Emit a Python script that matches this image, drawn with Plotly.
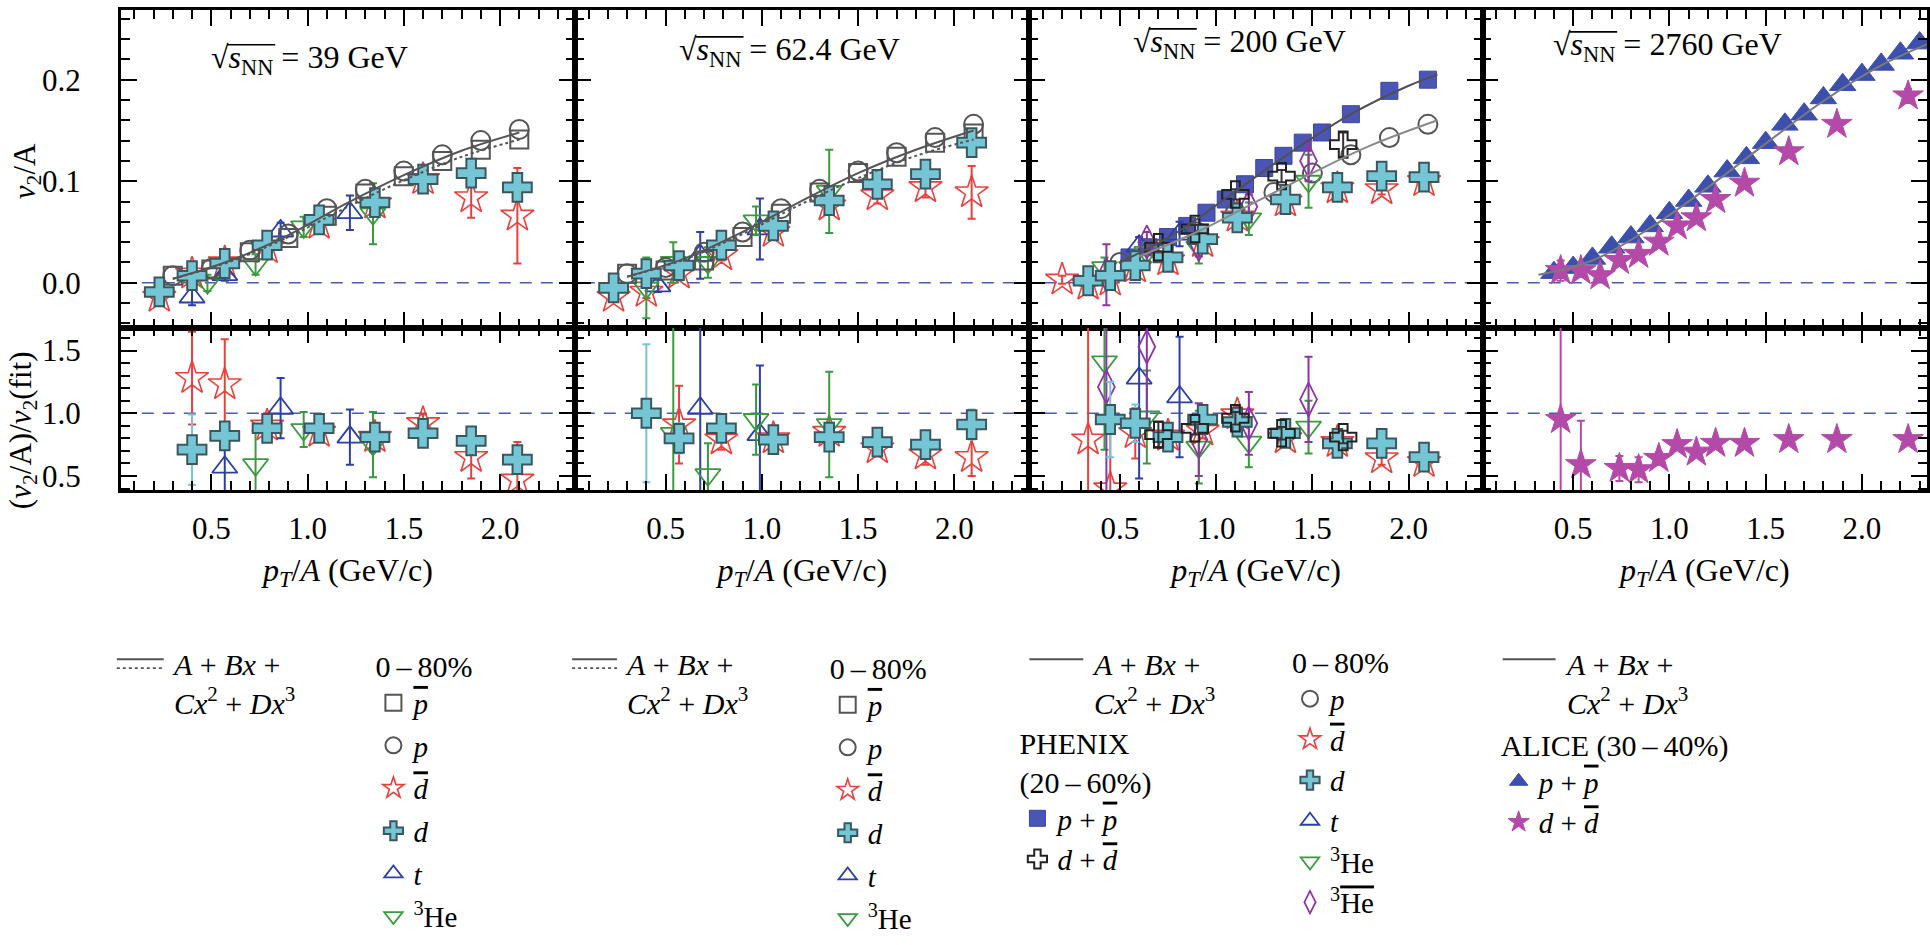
import plotly.graph_objects as go

FONT = "Liberation Serif, Times New Roman, serif"

# ======================= DATA =======================
p_bins = [0.3, 0.5, 0.7, 0.9, 1.1, 1.3, 1.5, 1.7, 1.9, 2.1]
d_bins_low = [0.23, 0.40, 0.57, 0.79, 1.06, 1.35, 1.60, 1.85, 2.09]
fit_x7 = [0.3, 0.6, 0.9, 1.2, 1.5, 1.8, 2.1]

# ---- sqrt(sNN) = 39 GeV ----
s39_pbar_v2 = [0.007, 0.013, 0.030, 0.044, 0.066, 0.088, 0.105, 0.120, 0.131, 0.141]
s39_p_v2 = [0.007, 0.014, 0.032, 0.048, 0.073, 0.092, 0.110, 0.126, 0.140, 0.151]
s39_d_v2 = [-0.009, 0.007, 0.019, 0.037, 0.062, 0.079, 0.102, 0.108, 0.094]
s39_d_err = [0.004, 0.004, 0.004, 0.003, 0.003, 0.004, 0.005, 0.007, 0.012]
s39_d_ratio = [None, 0.71, 0.82, 0.88, 0.88, 0.81, 0.84, 0.78, 0.63]
s39_d_ratio_err = [None, 0.28, 0.10, 0.05, 0.04, 0.05, 0.05, 0.06, 0.08]
s39_dbar_v2 = [-0.014, 0.009, 0.020, 0.034, 0.058, 0.078, 0.102, 0.084, 0.066]
s39_dbar_err = [0.005, 0.006, 0.006, 0.005, 0.006, 0.008, 0.010, 0.020, 0.047]
s39_dbar_ratio = [None, 1.28, 1.23, 0.90, 0.85, 0.81, 0.92, 0.65, 0.47]
s39_dbar_ratio_err = [None, 0.37, 0.36, 0.10, 0.05, 0.08, 0.07, 0.17, 0.30]
s39_t_x = [0.40, 0.57, 0.86, 1.22]
s39_t_v2 = [-0.014, 0.008, 0.051, 0.069]
s39_t_err = [0.008, 0.006, 0.008, 0.017]
s39_t_ratio = [None, 0.57, 1.04, 0.81]
s39_t_ratio_err = [None, 0.25, 0.24, 0.22]
s39_he_x = [0.48, 0.73, 0.98, 1.34]
s39_he_v2 = [0.000, 0.018, 0.055, 0.068]
s39_he_err = [0.008, 0.010, 0.010, 0.030]
s39_he_ratio = [None, 0.59, 0.87, 0.75]
s39_he_ratio_err = [None, 0.27, 0.14, 0.26]
s39_fit_p = [0.004, 0.022, 0.047, 0.078, 0.106, 0.130, 0.148]
s39_fit_pbar = [0.004, 0.021, 0.045, 0.074, 0.101, 0.124, 0.141]

# ---- sqrt(sNN) = 62.4 GeV ----
s62_pbar_v2 = [0.009, 0.012, 0.022, 0.045, 0.068, 0.089, 0.108, 0.124, 0.138, 0.147]
s62_p_v2 = [0.009, 0.015, 0.030, 0.050, 0.073, 0.092, 0.110, 0.128, 0.143, 0.156]
s62_d_v2 = [-0.005, 0.009, 0.017, 0.037, 0.056, 0.081, 0.097, 0.107, 0.138]
s62_d_err = [0.004, 0.005, 0.005, 0.004, 0.004, 0.005, 0.006, 0.007, 0.012]
s62_d_ratio = [None, 1.00, 0.80, 0.88, 0.79, 0.81, 0.77, 0.75, 0.91]
s62_d_ratio_err = [None, 0.55, 0.12, 0.05, 0.04, 0.05, 0.04, 0.05, 0.12]
s62_dbar_v2 = [-0.014, -0.009, 0.009, 0.027, 0.050, 0.076, 0.086, 0.094, 0.089]
s62_dbar_err = [0.004, 0.006, 0.006, 0.005, 0.005, 0.006, 0.008, 0.010, 0.026]
s62_dbar_ratio = [None, None, 0.91, 0.79, 0.80, 0.85, 0.72, 0.67, 0.65]
s62_dbar_ratio_err = [None, None, 0.31, 0.08, 0.05, 0.06, 0.06, 0.08, 0.15]
s62_t_x = [0.46, 0.68, 0.99]
s62_t_v2 = [-0.003, 0.027, 0.053]
s62_t_err = [0.006, 0.023, 0.030]
s62_t_ratio = [None, 1.04, 0.83]
s62_t_ratio_err = [None, 0.70, 0.55]
s62_he_x = [0.40, 0.54, 0.72, 0.97, 1.35]
s62_he_v2 = [-0.005, 0.020, 0.020, 0.061, 0.090]
s62_he_err = [0.030, 0.020, 0.015, 0.014, 0.041]
s62_he_ratio = [None, 0.84, 0.51, 0.95, 0.91]
s62_he_ratio_err = [None, 0.90, 0.25, 0.28, 0.42]
s62_fit_p = [0.006, 0.024, 0.050, 0.080, 0.108, 0.131, 0.150]
s62_fit_pbar = [0.006, 0.023, 0.048, 0.077, 0.103, 0.125, 0.141]

# ---- sqrt(sNN) = 200 GeV ----
s200_phx_p_x = [0.55, 0.65, 0.75, 0.85, 0.95, 1.05, 1.15, 1.25, 1.35, 1.45, 1.55, 1.7, 1.9, 2.1]
s200_phx_p_v2 = [0.025, 0.035, 0.045, 0.056, 0.069, 0.082, 0.097, 0.113, 0.125, 0.138, 0.148, 0.166, 0.189, 0.200]
s200_phx_d_x = [0.70, 0.89, 1.10, 1.34, 1.66]
s200_phx_d_v2 = [0.035, 0.053, 0.087, 0.105, 0.136]
s200_phx_d_err = [0.004, 0.004, 0.005, 0.006, 0.012]
s200_phx_d_ratio = [0.83, 0.88, 0.96, 0.84, 0.81]
s200_phx_d_ratio_err = [0.10, 0.05, 0.05, 0.05, 0.05]
s200_p_x = [0.5, 0.7, 0.9, 1.1, 1.3, 1.5, 1.7, 1.9, 2.1]
s200_p_v2 = [0.020, 0.033, 0.050, 0.069, 0.089, 0.108, 0.126, 0.143, 0.156]
s200_d_x = [0.335, 0.45, 0.58, 0.75, 0.93, 1.11, 1.36, 1.63, 1.86, 2.08]
s200_d_v2 = [0.002, 0.007, 0.017, 0.025, 0.043, 0.064, 0.082, 0.094, 0.105, 0.104]
s200_d_err = [0.004, 0.004, 0.004, 0.003, 0.003, 0.003, 0.004, 0.004, 0.005, 0.006]
s200_d_ratio = [None, 0.95, 0.92, 0.81, 0.95, 0.93, 0.84, 0.76, 0.76, 0.65]
s200_d_ratio_err = [None, 0.30, 0.15, 0.05, 0.05, 0.05, 0.04, 0.04, 0.04, 0.04]
s200_dbar_x = [0.20, 0.335, 0.45, 0.58, 0.75, 0.93, 1.11, 1.36, 1.63, 1.86, 2.08]
s200_dbar_v2 = [0.003, -0.002, 0.002, 0.015, 0.022, 0.040, 0.065, 0.080, 0.093, 0.092, 0.100]
s200_dbar_err = [0.004, 0.004, 0.005, 0.004, 0.004, 0.003, 0.004, 0.004, 0.004, 0.005, 0.006]
s200_dbar_ratio = [None, 0.79, 0.40, 0.84, 0.82, 0.86, 0.99, 0.80, 0.77, 0.64, 0.61]
s200_dbar_ratio_err = [None, 1.00, 0.50, 0.20, 0.06, 0.06, 0.06, 0.05, 0.05, 0.05, 0.05]
s200_t_x = [0.60, 0.81]
s200_t_v2 = [0.036, 0.048]
s200_t_err = [0.009, 0.012]
s200_t_ratio = [1.28, 1.13]
s200_t_ratio_err = [0.80, 0.48]
s200_he_x = [0.42, 0.64, 0.91, 1.17, 1.48]
s200_he_v2 = [0.015, 0.030, 0.035, 0.063, 0.100]
s200_he_err = [0.010, 0.010, 0.016, 0.016, 0.026]
s200_he_ratio = [1.41, 0.97, 0.73, 0.77, 0.89]
s200_he_ratio_err = [0.70, 0.37, 0.29, 0.20, 0.21]
s200_hebar_x = [0.43, 0.64, 0.91, 1.17, 1.48]
s200_hebar_v2 = [0.008, 0.040, 0.038, 0.075, 0.120]
s200_hebar_err = [0.030, 0.010, 0.012, 0.012, 0.020]
s200_hebar_ratio = [1.21, 1.53, 0.79, 0.92, 1.11]
s200_hebar_ratio_err = [0.90, 0.60, 0.29, 0.25, 0.34]
s200_fit_phx_x = [0.5, 0.8, 1.1, 1.4, 1.7, 2.0, 2.15]
s200_fit_phx = [0.020, 0.050, 0.090, 0.130, 0.166, 0.194, 0.205]
s200_fit_p_x = [0.6, 0.9, 1.2, 1.5, 1.8, 2.15]
s200_fit_p = [0.026, 0.050, 0.079, 0.108, 0.135, 0.160]

# ---- sqrt(sNN) = 2760 GeV (ALICE) ----
a_p_x = [0.4, 0.5, 0.6, 0.7, 0.8, 0.9, 1.0, 1.1, 1.2, 1.3, 1.4, 1.5, 1.6, 1.7, 1.8, 1.9, 2.0, 2.1, 2.2, 2.3]
a_p_v2 = [0.010, 0.015, 0.024, 0.035, 0.045, 0.056, 0.069, 0.081, 0.095, 0.110,
          0.123, 0.138, 0.156, 0.166, 0.182, 0.195, 0.205, 0.215, 0.226, 0.236]
a_d_x = [0.435, 0.54, 0.64, 0.74, 0.84, 0.945, 1.04, 1.14, 1.24, 1.39, 1.62, 1.87, 2.24]
a_d_v2 = [0.012, 0.012, 0.007, 0.022, 0.028, 0.040, 0.056, 0.064, 0.082, 0.098, 0.129, 0.156, 0.184]
a_d_err = [0.010, 0.006, 0.004, 0.004, 0.004, 0.003, 0.003, 0.003, 0.003, 0.003, 0.004, 0.005, 0.007]
a_d_ratio = [0.95, 0.59, None, 0.56, 0.55, 0.64, 0.75, 0.69, 0.76, 0.76, 0.79, 0.79, 0.79]
a_d_ratio_err = [1.00, 0.35, None, 0.10, 0.10, 0.05, 0.04, 0.03, 0.03, 0.03, 0.03, 0.03, 0.03]
a_fit_x = [0.32, 0.6, 0.9, 1.2, 1.5, 1.8, 2.1, 2.34]
a_fit = [0.008, 0.022, 0.054, 0.094, 0.137, 0.179, 0.214, 0.235]

ref_level_v2 = 0.0
ref_level_ratio = 1.0

panel_titles = ["39 GeV", "62.4 GeV", "200 GeV", "2760 GeV"]

# ======================= STYLE / LAYOUT =======================
W, H = 1930, 945
left_px = [121, 576, 1031, 1485]
right_px = [576, 1031, 1485, 1930]
PX_PER_UNIT = 192.8
X_START = 0.03
TOP_PX = (10, 329)
BOT_PX = (329, 492)
ZERO_PX, TOP_SCALE = 284, 1020.0
ONE_PX, BOT_SCALE = 415, 126.0

RED = "#e8413c"
CYAN = "#74c6d4"
CYAN_EDGE = "#3c5660"
GRAY = "#555555"
BLUE = "#2b3fa5"
GREEN = "#3a9a3f"
PURPLE = "#8d35a5"
PHX_BLUE = "#4a55b5"
ALICE_BLUE = "#3c4fad"
MAGENTA = "#b44aa8"
DASH_BLUE = "#4a5cb0"

OVL = "<span style='text-decoration:overline'>{}</span>"

STY = {
    "pbar": dict(symbol="square-open", size=18, color=GRAY, line=dict(color=GRAY, width=2)),
    "p": dict(symbol="circle-open", size=19, color=GRAY, line=dict(color=GRAY, width=2)),
    "dbar": dict(symbol="star-open", size=25, color=RED, line=dict(color=RED, width=1.6)),
    "d": dict(symbol="cross", size=24, color=CYAN, line=dict(color=CYAN_EDGE, width=2)),
    "t": dict(symbol="triangle-up-open", size=22, color=BLUE, line=dict(color=BLUE, width=1.8)),
    "he": dict(symbol="triangle-down-open", size=22, color=GREEN, line=dict(color=GREEN, width=1.8)),
    "hebar": dict(symbol="diamond-tall-open", size=24, color=PURPLE, line=dict(color=PURPLE, width=1.8)),
    "phx_p": dict(symbol="square", size=17, color=PHX_BLUE, line=dict(color="#3a45a0", width=1)),
    "phx_d": dict(symbol="cross-open", size=22, color="#222222", line=dict(color="#222222", width=2)),
    "a_p": dict(symbol="triangle-up", size=23, color=ALICE_BLUE, line=dict(color=ALICE_BLUE, width=1)),
    "a_d": dict(symbol="star", size=23, color=MAGENTA, line=dict(color=MAGENTA, width=1)),
}
ERRC = {"dbar": RED, "d": CYAN, "t": BLUE, "he": GREEN, "hebar": PURPLE,
        "phx_d": "#333333", "a_d": MAGENTA, "pbar": GRAY, "p": GRAY}

NAMES = {
    "pbar": OVL.format("<i>p</i>"),
    "p": "<i>p</i>",
    "dbar": OVL.format("<i>d</i>"),
    "d": "<i>d</i>",
    "t": "<i>t</i>",
    "he": "<sup>3</sup>He",
    "hebar": "<sup>3</sup>" + OVL.format("He"),
    "phx_p": "<i>p</i> + " + OVL.format("<i>p</i>"),
    "phx_d": "<i>d</i> + " + OVL.format("<i>d</i>"),
    "a_p": "<i>p</i> + " + OVL.format("<i>p</i>"),
    "a_d": "<i>d</i> + " + OVL.format("<i>d</i>"),
}

fig = go.Figure()


def sid(n):
    return "" if n == 1 else str(n)


def add_points(panel, kind, x, y, err=None, row="top"):
    n = panel + 1 if row == "top" else panel + 5
    kw = {}
    if err is not None:
        kw["error_y"] = dict(type="data", array=err, color=ERRC.get(kind, GRAY),
                             thickness=2, width=4, visible=True)
    fig.add_trace(go.Scatter(x=x, y=y, mode="markers", marker=STY[kind],
                             xaxis="x" + sid(n), yaxis="y" + sid(n),
                             showlegend=False, hoverinfo="skip", **kw))


def add_fit(panel, x, y, color=GRAY, dash="solid", width=2):
    n = panel + 1
    fig.add_trace(go.Scatter(x=x, y=y, mode="lines",
                             line=dict(color=color, width=width, dash=dash, shape="spline"),
                             xaxis="x" + sid(n), yaxis="y" + sid(n),
                             showlegend=False, hoverinfo="skip"))


def add_legend_entry(kind, legend, gid):
    fig.add_trace(go.Scatter(x=[None], y=[None], mode="markers", marker=STY[kind],
                             name=NAMES[kind], legend=legend, legendgroup=gid,
                             showlegend=True, hoverinfo="skip"))


# ---- panel 1: 39 GeV ----
add_points(0, "dbar", d_bins_low, s39_dbar_v2, s39_dbar_err)
add_points(0, "t", s39_t_x, s39_t_v2, s39_t_err)
add_points(0, "he", s39_he_x, s39_he_v2, s39_he_err)
add_points(0, "pbar", p_bins, s39_pbar_v2)
add_points(0, "p", p_bins, s39_p_v2)
add_points(0, "d", d_bins_low, s39_d_v2, s39_d_err)
add_fit(0, fit_x7, s39_fit_p)
add_fit(0, fit_x7, s39_fit_pbar, dash="dot")
add_points(0, "dbar", d_bins_low, s39_dbar_ratio, s39_dbar_ratio_err, row="bot")
add_points(0, "t", s39_t_x, s39_t_ratio, s39_t_ratio_err, row="bot")
add_points(0, "he", s39_he_x, s39_he_ratio, s39_he_ratio_err, row="bot")
add_points(0, "d", d_bins_low, s39_d_ratio, s39_d_ratio_err, row="bot")

# ---- panel 2: 62.4 GeV ----
add_points(1, "dbar", d_bins_low, s62_dbar_v2, s62_dbar_err)
add_points(1, "t", s62_t_x, s62_t_v2, s62_t_err)
add_points(1, "he", s62_he_x, s62_he_v2, s62_he_err)
add_points(1, "pbar", p_bins, s62_pbar_v2)
add_points(1, "p", p_bins, s62_p_v2)
add_points(1, "d", d_bins_low, s62_d_v2, s62_d_err)
add_fit(1, fit_x7, s62_fit_p)
add_fit(1, fit_x7, s62_fit_pbar, dash="dot")
add_points(1, "dbar", d_bins_low, s62_dbar_ratio, s62_dbar_ratio_err, row="bot")
add_points(1, "t", s62_t_x, s62_t_ratio, s62_t_ratio_err, row="bot")
add_points(1, "he", s62_he_x, s62_he_ratio, s62_he_ratio_err, row="bot")
add_points(1, "d", d_bins_low, s62_d_ratio, s62_d_ratio_err, row="bot")

# ---- panel 3: 200 GeV ----
add_points(2, "phx_p", s200_phx_p_x, s200_phx_p_v2)
add_points(2, "p", s200_p_x, s200_p_v2)
add_points(2, "dbar", s200_dbar_x, s200_dbar_v2, s200_dbar_err)
add_points(2, "t", s200_t_x, s200_t_v2, s200_t_err)
add_points(2, "he", s200_he_x, s200_he_v2, s200_he_err)
add_points(2, "hebar", s200_hebar_x, s200_hebar_v2, s200_hebar_err)
add_points(2, "d", s200_d_x, s200_d_v2, s200_d_err)
add_points(2, "phx_d", s200_phx_d_x, s200_phx_d_v2, s200_phx_d_err)
add_fit(2, s200_fit_phx_x, s200_fit_phx, color="#505050")
add_fit(2, s200_fit_p_x, s200_fit_p, color="#8a8a8a")
add_points(2, "dbar", s200_dbar_x, s200_dbar_ratio, s200_dbar_ratio_err, row="bot")
add_points(2, "t", s200_t_x, s200_t_ratio, s200_t_ratio_err, row="bot")
add_points(2, "he", s200_he_x, s200_he_ratio, s200_he_ratio_err, row="bot")
add_points(2, "hebar", s200_hebar_x, s200_hebar_ratio, s200_hebar_ratio_err, row="bot")
add_points(2, "d", s200_d_x, s200_d_ratio, s200_d_ratio_err, row="bot")
add_points(2, "phx_d", s200_phx_d_x, s200_phx_d_ratio, s200_phx_d_ratio_err, row="bot")

# ---- panel 4: 2760 GeV ----
add_points(3, "a_p", a_p_x, a_p_v2)
add_points(3, "a_d", a_d_x, a_d_v2, a_d_err)
add_fit(3, a_fit_x, a_fit, color="#7a7a7a")
add_points(3, "a_d", a_d_x, a_d_ratio, a_d_ratio_err, row="bot")

# ---- legend entries ----
for k in ["pbar", "p", "dbar", "d", "t", "he"]:
    add_legend_entry(k, "legend", "L1" + k)
for k in ["pbar", "p", "dbar", "d", "t", "he"]:
    add_legend_entry(k, "legend2", "L2" + k)
for k in ["phx_p", "phx_d"]:
    add_legend_entry(k, "legend3", "L3" + k)
for k in ["p", "dbar", "d", "t", "he", "hebar"]:
    add_legend_entry(k, "legend4", "L4" + k)
for k in ["a_p", "a_d"]:
    add_legend_entry(k, "legend5", "L5" + k)

# ======================= AXES =======================
tickfont = dict(family=FONT, size=31, color="black")
layout = dict(width=W, height=H, margin=dict(l=0, r=0, t=0, b=0),
              paper_bgcolor="white", plot_bgcolor="white",
              font=dict(family=FONT, size=29, color="black"))


def base_axis():
    return dict(showline=True, linecolor="black", linewidth=2.5, mirror="ticks",
                ticks="inside", ticklen=16, tickwidth=2, tickcolor="black",
                showgrid=False, zeroline=False, tickfont=tickfont, fixedrange=True)


ytop_dom = [1 - TOP_PX[1] / H, 1 - TOP_PX[0] / H]
ybot_dom = [1 - BOT_PX[1] / H, 1 - BOT_PX[0] / H]
ytop_rng = [(ZERO_PX - TOP_PX[1]) / TOP_SCALE, (ZERO_PX - TOP_PX[0]) / TOP_SCALE]
ybot_rng = [1 - (BOT_PX[1] - ONE_PX) / BOT_SCALE, 1 + (ONE_PX - BOT_PX[0]) / BOT_SCALE]

xtitle = "<i>p</i><sub><i>T</i></sub>/<i>A</i> (GeV/c)"
minor_x = dict(ticks="inside", dtick=0.1, tick0=0, ticklen=9, tickwidth=1.8, tickcolor="black")

for i in range(4):
    dom = [left_px[i] / W, right_px[i] / W]
    rng = [X_START, X_START + (right_px[i] - left_px[i]) / PX_PER_UNIT]
    nt, nb = i + 1, i + 5
    xa = base_axis()
    xa.update(domain=dom, range=rng, anchor="y" + sid(nt), dtick=0.5, tick0=0,
              showticklabels=False, minor=minor_x)
    layout["xaxis" + sid(nt)] = xa
    xb = base_axis()
    xb.update(domain=dom, range=rng, anchor="y" + sid(nb), dtick=0.5, tick0=0,
              tickformat=".1f", ticklabelstandoff=9, minor=minor_x,
              title=dict(text=xtitle, font=dict(family=FONT, size=32, color="black"), standoff=14))
    layout["xaxis" + sid(nb)] = xb
    ya = base_axis()
    ya.update(domain=ytop_dom, range=ytop_rng, anchor="x" + sid(nt), dtick=0.1, tick0=0,
              tickformat=".1f", showticklabels=(i == 0), ticklabelstandoff=31,
              minor=dict(ticks="inside", dtick=0.02, tick0=0, ticklen=9, tickwidth=1.8, tickcolor="black"))
    layout["yaxis" + sid(nt)] = ya
    yb = base_axis()
    yb.update(domain=ybot_dom, range=ybot_rng, anchor="x" + sid(nb), dtick=0.5, tick0=0,
              tickformat=".1f", showticklabels=(i == 0), ticklabelstandoff=31,
              minor=dict(ticks="inside", dtick=0.1, tick0=0, ticklen=9, tickwidth=1.8, tickcolor="black"))
    layout["yaxis" + sid(nb)] = yb

# ======================= LEGENDS =======================
lfont = dict(family=FONT, size=29, color="black")
tfont = dict(family=FONT, size=30, color="black")


def legend_box(xpx, ypx, title, gap):
    return dict(x=xpx / W, y=1 - ypx / H, xanchor="left", yanchor="top",
                bgcolor="rgba(0,0,0,0)", borderwidth=0, font=lfont,
                title=dict(text=title, font=tfont, side="top"),
                traceorder="grouped", tracegroupgap=gap, itemsizing="trace",
                itemclick=False, itemdoubleclick=False)


CENT = "0\u2009–\u200980%"
layout["legend"] = legend_box(374, 641, CENT, 2)
layout["legend2"] = legend_box(829, 643, CENT, 2)
layout["legend3"] = legend_box(1019, 718, "PHENIX<br>(20\u2009–\u200960%)", 0)
layout["legend4"] = legend_box(1292, 637, CENT, 0)
layout["legend5"] = legend_box(1501, 720, "ALICE (30\u2009–\u200940%)", 0)

# ======================= ANNOTATIONS & SHAPES =======================
ann = []
shapes = []
TITLE_SIZE = 32
title_pos = [(310, 60), (791, 52), (1241, 44), (1670, 47)]
# approximate text widths (Times metrics) to locate the radical's vinculum
title_w = [196.7, 220.7, 212.7, 228.7]
for t, (cx, cy), tw in zip(panel_titles, title_pos, title_w):
    ann.append(dict(text="√<i>s</i><sub>NN</sub> = " + t,
                    x=cx / W, y=1 - cy / H, xref="paper", yref="paper",
                    xanchor="center", yanchor="middle", showarrow=False,
                    font=dict(family=FONT, size=TITLE_SIZE, color="black")))
    lx = cx - tw / 2
    shapes.append(dict(type="line", xref="paper", yref="paper",
                       x0=(lx + 16) / W, x1=(lx + 64) / W,
                       y0=1 - (cy - 15) / H, y1=1 - (cy - 15) / H,
                       line=dict(color="black", width=1.6)))

ann.append(dict(text="<i>v</i><sub>2</sub>/A", x=27 / W, y=1 - 172 / H, xref="paper", yref="paper",
                textangle=-90, showarrow=False, xanchor="center", yanchor="middle",
                font=dict(family=FONT, size=31, color="black")))
ann.append(dict(text="(<i>v</i><sub>2</sub>/A)/<i>v</i><sub>2</sub>(fit)", x=23 / W, y=1 - 432 / H,
                xref="paper", yref="paper", textangle=-90, showarrow=False,
                xanchor="center", yanchor="middle",
                font=dict(family=FONT, size=31, color="black")))

fit_txt = "<i>A</i> + <i>Bx</i> +<br><i>Cx</i><sup>2</sup> + <i>Dx</i><sup>3</sup>"
fit_blocks = [(117, 164, 170, True), (573, 618, 624, True), (1031, 1085, 1092, False), (1505, 1558, 1565, False)]
ffont = dict(family=FONT, size=30, color="black")
for x0, x1, tx, dotted in fit_blocks:
    ann.append(dict(text=fit_txt, x=tx / W, y=1 - 649 / H, xref="paper", yref="paper",
                    xanchor="left", yanchor="top", align="left", showarrow=False, font=ffont))
    shapes.append(dict(type="line", xref="paper", yref="paper", x0=x0 / W, x1=x1 / W,
                       y0=1 - 662 / H, y1=1 - 662 / H, line=dict(color=GRAY, width=2)))
    if dotted:
        shapes.append(dict(type="line", xref="paper", yref="paper", x0=x0 / W, x1=x1 / W,
                           y0=1 - 671 / H, y1=1 - 671 / H, line=dict(color=GRAY, width=1.6, dash="dot")))

shapes.append(dict(type="line", xref="paper", yref="y", x0=left_px[0] / W, x1=1,
                   y0=ref_level_v2, y1=ref_level_v2, layer="below",
                   line=dict(color=DASH_BLUE, width=1.6, dash="12px,9px")))
shapes.append(dict(type="line", xref="paper", yref="y5", x0=left_px[0] / W, x1=1,
                   y0=ref_level_ratio, y1=ref_level_ratio, layer="below",
                   line=dict(color=DASH_BLUE, width=1.6, dash="12px,9px")))

layout["annotations"] = ann
layout["shapes"] = shapes
fig.update_layout(**layout)

fig.write_html("out.html", config={"displayModeBar": False})
